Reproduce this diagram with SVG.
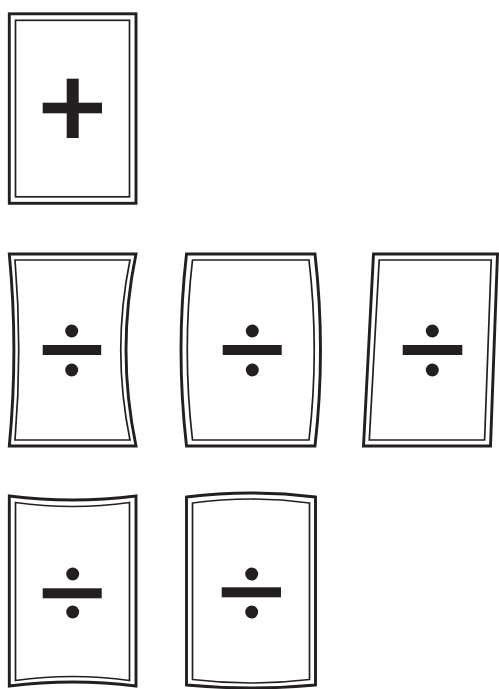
<svg xmlns="http://www.w3.org/2000/svg" width="499" height="689" viewBox="0 0 499 689">
<style>
.o{fill:#fff;stroke:#231f20;stroke-width:2.9;stroke-linejoin:miter}
.i{fill:none;stroke:#231f20;stroke-width:1.7}
.s{fill:#231f20}
</style>
<rect width="499" height="689" fill="#fff"/>
<g id="card-plus">
<rect class="o" x="9.3" y="13.8" width="126.7" height="189.5"/>
<rect class="i" x="15.5" y="20.3" width="114" height="176.5"/>
<rect class="s" x="42.7" y="102.7" width="59.3" height="10.6"/>
<rect class="s" x="66.7" y="78.7" width="12" height="59.3"/>
</g>
<g id="card-pincushion">
<path class="o" d="M9.3,254 L136,254 Q116,350 136,446 L9.3,446 Q18.5,350 9.3,254 Z"/>
<path class="i" d="M15,260 L130,260 Q111.5,350 130,440 L15,440 Q22.5,350 15,260 Z"/>
<rect class="s" x="42.7" y="345" width="58.5" height="10"/>
<circle class="s" cx="71.7" cy="331" r="6.5"/>
<circle class="s" cx="71.7" cy="370" r="6.5"/>
</g>
<g id="card-barrel">
<path class="o" d="M186.5,254 L315,254 Q326,350 315,446 L186.5,446 Q175.5,350 186.5,254 Z"/>
<path class="i" d="M192.5,260 L309,260 Q319.5,350 309,440 L192.5,440 Q182,350 192.5,260 Z"/>
<rect class="s" x="222.7" y="345" width="59" height="10"/>
<circle class="s" cx="252.3" cy="331" r="6.5"/>
<circle class="s" cx="252.3" cy="370" r="6.5"/>
</g>
<g id="card-skew">
<path class="o" d="M373.5,254 L497.5,254 L490.5,446 L363.5,446 Z"/>
<path class="i" d="M379.2,260 L491.2,260 L484.6,440 L369.3,440 Z"/>
<rect class="s" x="402.7" y="345" width="59.6" height="10"/>
<circle class="s" cx="432.3" cy="331" r="6.5"/>
<circle class="s" cx="432.3" cy="370" r="6.5"/>
</g>
<g id="card-concave-tb">
<path class="o" d="M9.3,496 Q72.6,504 136,496 L136,686 Q72.6,678 9.3,686 Z"/>
<path class="i" d="M15.5,502.5 Q72.6,510.5 129.5,502.5 L129.5,680.5 Q72.6,672.5 15.5,680.5 Z"/>
<rect class="s" x="42.7" y="588.3" width="59" height="10"/>
<circle class="s" cx="72.7" cy="574" r="6.5"/>
<circle class="s" cx="72.7" cy="612" r="6.5"/>
</g>
<g id="card-convex-tb">
<path class="o" d="M186.5,497 Q251,489 315.5,497 L315.5,685 Q251,691 186.5,685 Z"/>
<path class="i" d="M192.5,503 Q251,495 309.5,503 L309.5,679.5 Q251,686.5 192.5,679.5 Z"/>
<rect class="s" x="221.7" y="587.3" width="59.3" height="10"/>
<circle class="s" cx="251.7" cy="574" r="6.5"/>
<circle class="s" cx="251.7" cy="612" r="6.5"/>
</g>
</svg>
